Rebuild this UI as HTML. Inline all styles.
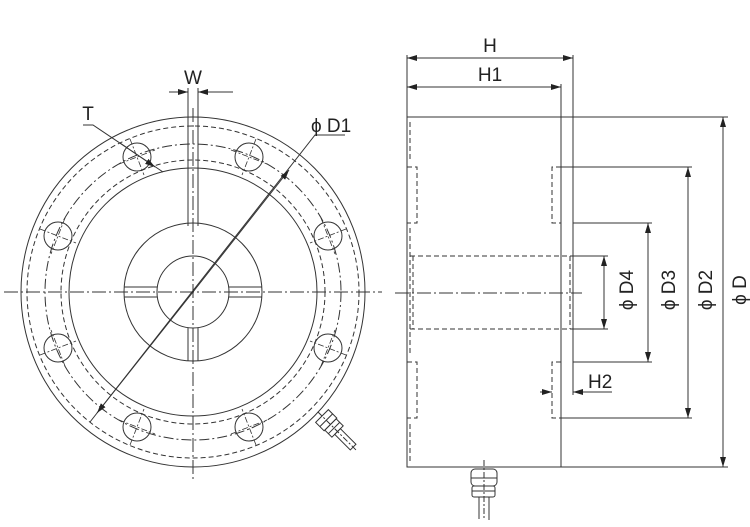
<!DOCTYPE html>
<html><head><meta charset="utf-8"><style>
html,body{margin:0;padding:0;background:#fff}
svg{display:block}
text{font-family:"Liberation Sans",Arial,sans-serif;fill:#222}
</style></head><body>
<svg width="750" height="527" viewBox="0 0 750 527" xmlns="http://www.w3.org/2000/svg">
<defs>
<marker id="a" markerWidth="10" markerHeight="6" refX="10" refY="3" orient="auto" markerUnits="userSpaceOnUse"><path d="M0,0 L10,3 L0,6 z" fill="#222"/></marker>
</defs>
<g fill="none" stroke="#333" stroke-width="1">
<ellipse cx="193" cy="292" rx="172" ry="175"/>
<circle cx="193" cy="292" r="166" stroke-dasharray="5,3"/>
<circle cx="193" cy="292" r="148" stroke-dasharray="10,3,2,3"/>
<circle cx="193" cy="292" r="132" stroke-dasharray="5,3"/>
<circle cx="193" cy="292" r="124"/>
<circle cx="193" cy="292" r="69"/>
<circle cx="193" cy="292" r="36"/>
<g>
<circle cx="137" cy="157" r="14"/><circle cx="249" cy="157" r="14"/>
<circle cx="58" cy="236" r="14"/><circle cx="328" cy="236" r="14"/>
<circle cx="58" cy="348" r="14"/><circle cx="328" cy="348" r="14"/>
<circle cx="137" cy="427" r="14"/><circle cx="249" cy="427" r="14"/>
</g>
<g stroke-dasharray="6,2,2,2" stroke-width="0.8">
<line x1="130" y1="139" x2="144" y2="175"/><line x1="119" y1="164" x2="155" y2="150"/>
<line x1="256" y1="139" x2="242" y2="175"/><line x1="231" y1="150" x2="267" y2="164"/>
<line x1="40" y1="229" x2="76" y2="243"/><line x1="65" y1="218" x2="51" y2="254"/>
<line x1="346" y1="229" x2="310" y2="243"/><line x1="321" y1="218" x2="335" y2="254"/>
<line x1="40" y1="355" x2="76" y2="341"/><line x1="65" y1="366" x2="51" y2="330"/>
<line x1="346" y1="355" x2="310" y2="341"/><line x1="321" y1="366" x2="335" y2="330"/>
<line x1="130" y1="445" x2="144" y2="409"/><line x1="119" y1="420" x2="155" y2="434"/>
<line x1="256" y1="445" x2="242" y2="409"/><line x1="231" y1="434" x2="267" y2="420"/>
</g>
<line x1="4" y1="292" x2="382" y2="292" stroke-dasharray="14,3,2,3"/>
<line x1="193" y1="108" x2="193" y2="480" stroke-dasharray="14,3,2,3"/>
<line x1="188" y1="88" x2="188" y2="226"/><line x1="198" y1="88" x2="198" y2="226"/>
<line x1="188" y1="328" x2="188" y2="361"/><line x1="198" y1="328" x2="198" y2="361"/>
<line x1="124" y1="287" x2="157" y2="287"/><line x1="124" y1="297" x2="157" y2="297"/>
<line x1="229" y1="287" x2="262" y2="287"/><line x1="229" y1="297" x2="262" y2="297"/>
<line x1="169" y1="92" x2="188" y2="92" marker-end="url(#a)"/>
<line x1="233" y1="92" x2="198" y2="92" marker-end="url(#a)"/>
<polyline points="83,125 93,125 163,172"/>
<line x1="120" y1="143" x2="155" y2="167" marker-end="url(#a)"/>
<polyline points="345,135 315,135 90,422"/>
<line x1="193" y1="292" x2="289" y2="170" marker-end="url(#a)"/>
<line x1="193" y1="292" x2="97" y2="413" marker-end="url(#a)"/>
<g transform="translate(322,416) rotate(-45)">
<rect x="-9" y="0" width="18" height="12"/><line x1="-9" y1="6" x2="9" y2="6"/>
<rect x="-8" y="12" width="16" height="10"/><line x1="-8" y1="17" x2="8" y2="17"/>
<rect x="-4" y="22" width="8" height="22"/>
<line x1="0" y1="-6" x2="0" y2="50" stroke-dasharray="6,2,2,2"/>
</g>

<path d="M407,117 L561,117 L561,467 L407,467 Z"/>
<line x1="573" y1="55" x2="573" y2="395"/>
<line x1="407" y1="55" x2="407" y2="117"/>
<line x1="561" y1="84" x2="561" y2="117"/>
<g stroke-dasharray="5,3">
<polyline points="410,122 410,160"/>
<polyline points="407,167 417,167 417,223 407,223"/>
<polyline points="410,228 410,356"/>
<polyline points="407,362 417,362 417,418 407,418"/>
<polyline points="410,424 410,462"/>
<polyline points="561,167 552,167 552,223 561,223"/>
<polyline points="561,362 552,362 552,418 561,418"/>
<line x1="410" y1="256" x2="573" y2="256"/>
<line x1="410" y1="329" x2="573" y2="329"/>
<line x1="570" y1="256" x2="570" y2="329"/>
<line x1="413" y1="256" x2="413" y2="329"/>
</g>
<line x1="395" y1="293" x2="582" y2="293" stroke-dasharray="14,3,2,3"/>
<line x1="561" y1="117" x2="728" y2="117"/>
<line x1="561" y1="467" x2="728" y2="467"/>
<line x1="561" y1="167" x2="692" y2="167"/>
<line x1="561" y1="418" x2="692" y2="418"/>
<line x1="573" y1="223" x2="652" y2="223"/>
<line x1="573" y1="362" x2="652" y2="362"/>
<line x1="573" y1="256" x2="608" y2="256"/>
<line x1="573" y1="329" x2="608" y2="329"/>
<line x1="723" y1="292" x2="723" y2="117" marker-end="url(#a)"/><line x1="723" y1="292" x2="723" y2="467" marker-end="url(#a)"/>
<line x1="688" y1="292" x2="688" y2="167" marker-end="url(#a)"/><line x1="688" y1="292" x2="688" y2="418" marker-end="url(#a)"/>
<line x1="648" y1="292" x2="648" y2="223" marker-end="url(#a)"/><line x1="648" y1="292" x2="648" y2="362" marker-end="url(#a)"/>
<line x1="604" y1="292" x2="604" y2="256" marker-end="url(#a)"/><line x1="604" y1="292" x2="604" y2="329" marker-end="url(#a)"/>
<line x1="490" y1="58" x2="407" y2="58" marker-end="url(#a)"/><line x1="490" y1="58" x2="573" y2="58" marker-end="url(#a)"/>
<line x1="484" y1="87" x2="407" y2="87" marker-end="url(#a)"/><line x1="484" y1="87" x2="561" y2="87" marker-end="url(#a)"/>
<line x1="540" y1="392" x2="552" y2="392" marker-end="url(#a)"/>
<line x1="612" y1="392" x2="573" y2="392" marker-end="url(#a)"/>
<rect x="471" y="469" width="26" height="17" rx="4"/><line x1="471" y1="478" x2="497" y2="478"/>
<rect x="472" y="486" width="23" height="11" rx="2"/><line x1="472" y1="491" x2="495" y2="491"/>
<line x1="479" y1="497" x2="479" y2="519"/><line x1="489" y1="497" x2="489" y2="520"/>
<line x1="484" y1="460" x2="484" y2="520" stroke-dasharray="6,2,2,2"/>
</g>
<g font-size="19">
<text x="193" y="84" text-anchor="middle">W</text>
<text x="88" y="120" text-anchor="middle">T</text>
<text x="311" y="132">ϕ D1</text>
<text x="490" y="52" text-anchor="middle">H</text>
<text x="490" y="81" text-anchor="middle">H1</text>
<text x="588" y="388">H2</text>
<text transform="translate(633,290) rotate(-90)" text-anchor="middle">ϕ D4</text>
<text transform="translate(675,290) rotate(-90)" text-anchor="middle">ϕ D3</text>
<text transform="translate(712,290) rotate(-90)" text-anchor="middle">ϕ D2</text>
<text transform="translate(746,290) rotate(-90)" text-anchor="middle">ϕ D</text>
</g>
</svg>
</body></html>
